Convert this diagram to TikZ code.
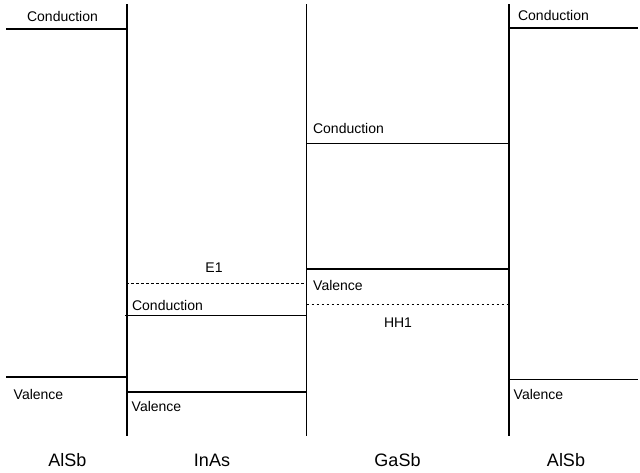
\documentclass[tikz,border=0pt]{standalone}
\usepackage{fontspec}
\setmainfont{Liberation Sans}
\begin{document}
\begin{tikzpicture}[x=1pt,y=-1pt,
  thickline/.style={line width=1.8pt},
  thinline/.style={line width=1pt},
  level/.style={line width=1.6pt},
  dotted level/.style={line width=1pt,dash pattern=on 2.8pt off 2.2pt},
  lbl/.style={inner sep=0pt,font=\fontsize{14}{16}\selectfont},
  mat/.style={inner sep=0pt,font=\fontsize{18}{20}\selectfont}]
\useasboundingbox[fill=white] (0,0) rectangle (640,472);
% interfaces
\coordinate (i1t) at (127,4); \coordinate (i1b) at (127,436);
\coordinate (i2t) at (306.5,4); \coordinate (i2b) at (306.5,436);
\coordinate (i3t) at (509,4); \coordinate (i3b) at (509,436);
\draw[thickline] (i1t) -- (i1b);
\draw[thickline] (i2t) -- (i2b);
\draw[thickline] (i3t) -- (i3b);
% AlSb left
\draw[level] (6,29) -- (127,29);
\draw[level] (6,377) -- (127,377);
% InAs
\draw[dotted level] (126,283) -- (306.5,283);
\draw[thinline] (125,315) -- (306.5,315);
\draw[level] (127,392) -- (306.5,392);
% GaSb
\draw[thinline] (306.5,143) -- (510,143);
\draw[level] (306.5,269) -- (510,269);
\draw[dotted level] (306.5,304) -- (508,304);
% AlSb right
\draw[level] (509,28) -- (638,28);
\draw[thinline] (509,379) -- (638,379);
% labels
\node[lbl] (c1) at (62.5,16) {Conduction};
\node[lbl] (c4) at (553.5,15) {Conduction};
\node[lbl] (c3) at (348.5,128.5) {Conduction};
\node[lbl] (e1) at (214,268) {E1};
\node[lbl] (v3) at (338,285) {Valence};
\node[lbl] (c2) at (167.5,305.5) {Conduction};
\node[lbl] (hh1) at (398,323) {HH1};
\node[lbl] (v1) at (38.5,394) {Valence};
\node[lbl] (v2) at (156.5,406) {Valence};
\node[lbl] (v4) at (538.5,394) {Valence};
\node[mat] (m1) at (67.5,460) {AlSb};
\node[mat] (m2) at (212,460) {InAs};
\node[mat] (m3) at (397.5,460) {GaSb};
\node[mat] (m4) at (566,460) {AlSb};
\end{tikzpicture}
\end{document}
